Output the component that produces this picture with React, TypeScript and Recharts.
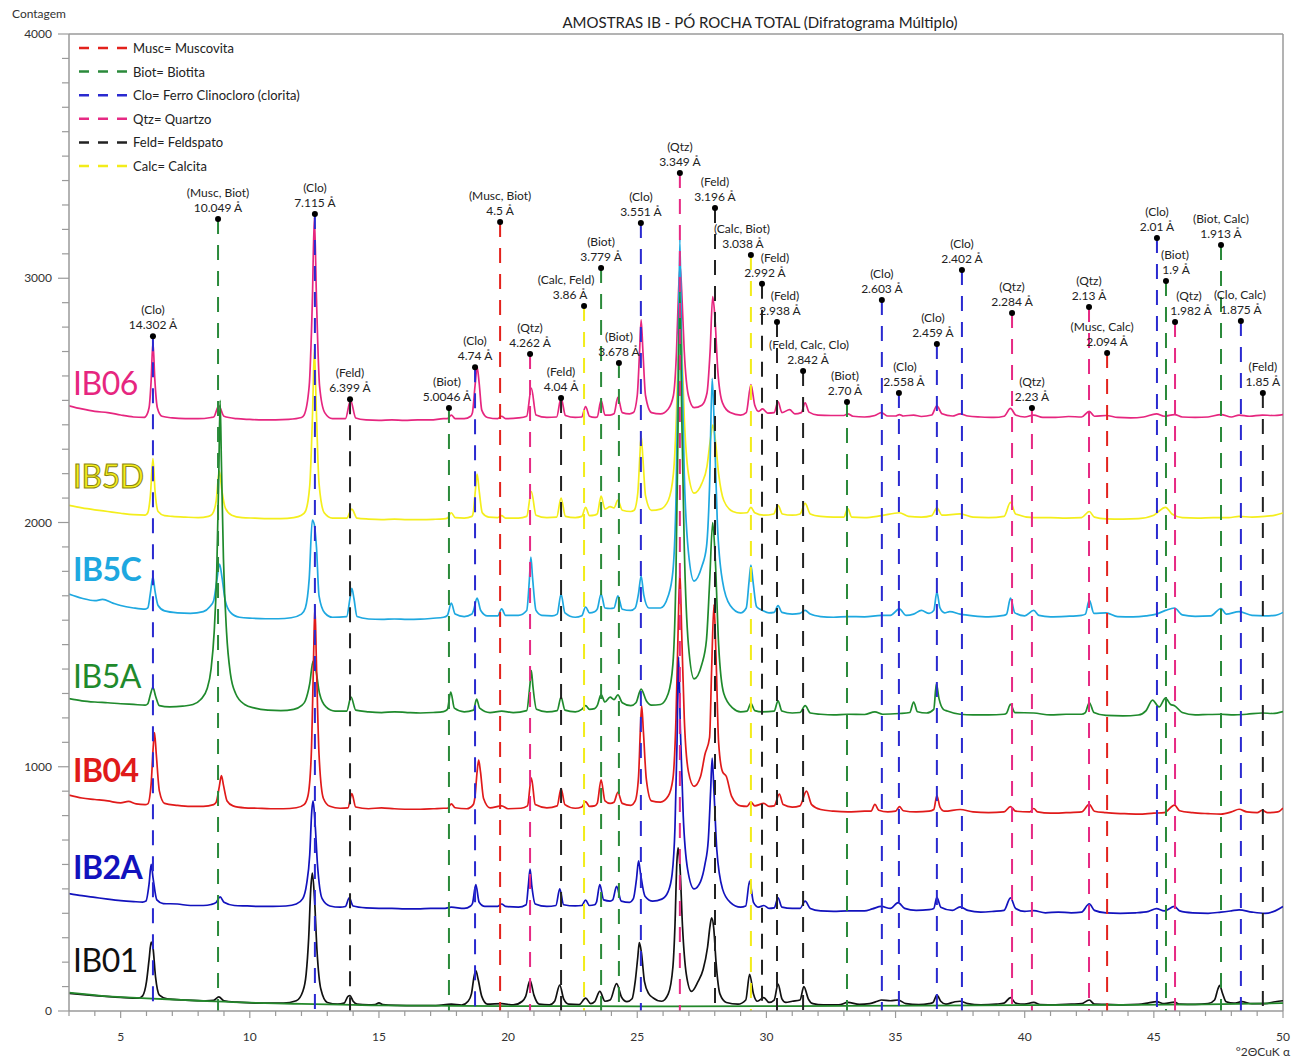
import React from 'react';
import { LineChart, Line, XAxis, YAxis, ReferenceLine, ReferenceDot } from 'recharts';

type Pt = [number, number];

// counts per sample (2θ, contagem)
const IB06: Pt[] = [
  [3, 2478], [3.5, 2465], [4, 2455], [4.5, 2450], [5, 2440], [5.5, 2432], [5.9, 2430],
  [5.95, 2432], [6.1, 2470], [6.18, 2580], [6.25, 2740], [6.32, 2590], [6.42, 2470], [6.6, 2435],
  [7, 2428], [7.5, 2425], [8, 2425], [8.5, 2430],
  [8.6, 2432], [8.8, 2478], [9.0, 2435],
  [9.5, 2425], [10, 2422], [10.5, 2420], [11, 2420], [11.5, 2422], [12.0, 2430],
  [12.1, 2440], [12.3, 2560], [12.42, 2900], [12.5, 3250], [12.58, 2920], [12.7, 2560], [12.9, 2450], [13.2, 2425],
  [13.7, 2425], [13.9, 2500], [14.1, 2428],
  [14.5, 2420], [15, 2418], [15.5, 2420], [16, 2418], [16.5, 2420], [17, 2420], [17.5, 2425],
  [17.65, 2425], [17.8, 2440], [17.95, 2425],
  [18.3, 2425], [18.55, 2435],
  [18.62, 2450], [18.72, 2560], [18.8, 2636], [18.88, 2570], [18.98, 2460], [19.2, 2430],
  [19.6, 2425], [19.75, 2435], [19.9, 2425],
  [20.4, 2428],
  [20.72, 2435], [20.9, 2550], [21.08, 2440],
  [21.5, 2430],
  [21.88, 2432], [22.05, 2510], [22.22, 2438],
  [22.6, 2430],
  [22.85, 2432], [23.0, 2475], [23.15, 2435],
  [23.35, 2430],
  [23.45, 2432], [23.6, 2500], [23.75, 2440],
  [23.95, 2440],
  [24.1, 2445], [24.25, 2512], [24.42, 2450],
  [24.7, 2445],
  [24.85, 2450], [25.0, 2520], [25.09, 2700], [25.15, 2830], [25.22, 2700], [25.32, 2520], [25.55, 2450],
  [25.9, 2445], [26.2, 2465],
  [26.4, 2520], [26.52, 2700], [26.6, 2950], [26.66, 3050], [26.72, 2950], [26.82, 2700], [26.98, 2520], [27.2, 2470],
  [27.5, 2480],
  [27.7, 2530], [27.82, 2700], [27.92, 2925], [28.0, 2850], [28.12, 2620], [28.3, 2490], [28.6, 2450],
  [29.0, 2440],
  [29.22, 2450], [29.4, 2565], [29.55, 2480], [29.7, 2455],
  [29.85, 2465], [30.05, 2448],
  [30.3, 2450], [30.45, 2495], [30.6, 2450],
  [30.9, 2462], [31.1, 2445],
  [31.35, 2450], [31.5, 2490], [31.65, 2452],
  [32, 2440], [32.5, 2438], [33, 2438],
  [33.15, 2445], [33.35, 2435],
  [33.8, 2432], [34.2, 2438],
  [34.45, 2450], [34.7, 2436],
  [35.0, 2436], [35.15, 2442], [35.3, 2436],
  [35.7, 2440], [36.0, 2434], [36.4, 2440],
  [36.6, 2478], [36.8, 2445],
  [37.2, 2436], [37.5, 2445], [37.8, 2436],
  [38.3, 2432], [38.8, 2430], [39.2, 2435],
  [39.45, 2467], [39.65, 2440],
  [40.0, 2432], [40.35, 2440], [40.7, 2430],
  [41.2, 2430], [41.7, 2434], [42.2, 2432],
  [42.5, 2455], [42.7, 2435],
  [43.15, 2438], [43.6, 2430], [44.1, 2428], [44.6, 2432],
  [45.1, 2445], [45.4, 2435], [45.8, 2442], [46.1, 2432],
  [46.6, 2430], [47.1, 2432], [47.6, 2442], [48.0, 2432], [48.3, 2440], [48.7, 2435], [49.2, 2440], [49.6, 2438], [50, 2442],
];

const IB5D: Pt[] = [
  [3, 2070], [3.5, 2060], [4, 2052], [4.5, 2045], [5, 2038], [5.5, 2032], [5.95, 2030],
  [6.05, 2040], [6.15, 2110], [6.25, 2262], [6.33, 2130], [6.45, 2045], [6.7, 2028],
  [7, 2025], [7.5, 2022], [8, 2020], [8.4, 2025],
  [8.55, 2035], [8.7, 2090], [8.82, 2210], [8.92, 2130], [9.05, 2060], [9.3, 2030],
  [9.7, 2020], [10.2, 2018], [10.7, 2016], [11.2, 2016], [11.7, 2020], [12.0, 2030],
  [12.15, 2045], [12.32, 2150], [12.43, 2450], [12.5, 2710], [12.57, 2480], [12.68, 2160], [12.88, 2040], [13.2, 2018],
  [13.75, 2018], [13.95, 2055], [14.15, 2018],
  [14.6, 2014], [15.1, 2012], [15.6, 2014], [16.1, 2012], [16.6, 2012], [17.1, 2013], [17.5, 2015],
  [17.65, 2018], [17.8, 2040], [17.95, 2020],
  [18.3, 2018], [18.6, 2025],
  [18.65, 2040], [18.74, 2140], [18.8, 2198], [18.88, 2130], [19.0, 2040], [19.25, 2022],
  [19.6, 2020], [19.75, 2028], [19.9, 2018],
  [20.4, 2018],
  [20.72, 2025], [20.9, 2127], [21.08, 2030],
  [21.5, 2020],
  [21.88, 2022], [22.05, 2100], [22.22, 2025],
  [22.6, 2020],
  [22.85, 2025], [23.0, 2062], [23.15, 2028],
  [23.35, 2030],
  [23.45, 2035], [23.6, 2108], [23.75, 2055],
  [23.95, 2065],
  [24.1, 2060], [24.25, 2092], [24.42, 2050],
  [24.75, 2045],
  [24.88, 2050], [25.02, 2120], [25.1, 2270], [25.15, 2355], [25.22, 2260], [25.32, 2110], [25.55, 2050],
  [25.9, 2055], [26.2, 2090],
  [26.4, 2200], [26.52, 2450], [26.6, 2750], [26.66, 2850], [26.72, 2740], [26.82, 2430], [26.98, 2200], [27.2, 2120],
  [27.5, 2160],
  [27.7, 2230], [27.82, 2330], [27.93, 2400], [28.02, 2340], [28.15, 2200], [28.35, 2090], [28.7, 2045],
  [29.0, 2038],
  [29.25, 2040], [29.4, 2062], [29.55, 2040],
  [29.9, 2030],
  [30.28, 2035], [30.45, 2070], [30.62, 2035],
  [31.0, 2030],
  [31.3, 2035], [31.5, 2078], [31.7, 2035],
  [32.1, 2025], [32.6, 2022], [33.0, 2022],
  [33.15, 2057], [33.3, 2022],
  [33.8, 2020], [34.45, 2028], [35.15, 2040], [35.5, 2025], [36.0, 2022], [36.4, 2028],
  [36.6, 2060], [36.8, 2030],
  [37.5, 2035], [38.0, 2022], [38.6, 2020], [39.2, 2025],
  [39.45, 2082], [39.65, 2035],
  [40.35, 2020], [41, 2020], [41.6, 2018], [42.2, 2020],
  [42.5, 2045], [42.7, 2022],
  [43.15, 2015], [43.8, 2014], [44.4, 2016], [45.0, 2030],
  [45.45, 2062], [45.7, 2035],
  [46.1, 2020], [46.7, 2018], [47.3, 2020], [47.9, 2020], [48.3, 2025], [48.8, 2022], [49.3, 2025], [49.7, 2030], [50, 2039],
];

const IB5C: Pt[] = [
  [3, 1707], [3.5, 1690], [4, 1680], [4.3, 1685], [4.7, 1670], [5, 1660], [5.5, 1650], [5.95, 1645],
  [6.05, 1650], [6.15, 1710], [6.25, 1777], [6.33, 1720], [6.45, 1660], [6.7, 1638],
  [7.2, 1630], [7.7, 1628], [8.2, 1635], [8.45, 1655],
  [8.6, 1680], [8.72, 1760], [8.83, 1830], [8.93, 1770], [9.05, 1680], [9.25, 1632],
  [9.6, 1612], [10.1, 1608], [10.6, 1606], [11.1, 1606], [11.6, 1610], [12.0, 1625],
  [12.15, 1650], [12.3, 1770], [12.42, 2010], [12.5, 1990], [12.58, 1900], [12.68, 1700], [12.9, 1630], [13.2, 1612],
  [13.75, 1615], [13.88, 1690], [13.95, 1730], [14.03, 1690], [14.15, 1615],
  [14.6, 1605], [15.1, 1603], [15.6, 1605], [16.1, 1603], [16.6, 1604], [17.1, 1608], [17.5, 1612],
  [17.65, 1620], [17.8, 1670], [17.95, 1625],
  [18.3, 1615], [18.6, 1625],
  [18.66, 1640], [18.8, 1690], [18.94, 1640], [19.2, 1618],
  [19.6, 1618], [19.75, 1646], [19.9, 1620],
  [20.4, 1620],
  [20.72, 1640], [20.82, 1760], [20.88, 1858], [20.95, 1770], [21.08, 1640], [21.3, 1620],
  [21.7, 1618],
  [21.9, 1625], [22.05, 1707], [22.2, 1630],
  [22.6, 1612],
  [22.85, 1618], [23.0, 1654], [23.15, 1630],
  [23.35, 1635],
  [23.45, 1645], [23.6, 1707], [23.75, 1650],
  [23.95, 1648],
  [24.1, 1650], [24.25, 1700], [24.42, 1645],
  [24.75, 1640],
  [24.92, 1650], [25.05, 1710], [25.15, 1781], [25.25, 1705], [25.45, 1650],
  [25.9, 1650], [26.2, 1700],
  [26.38, 1800], [26.5, 2100], [26.58, 2600], [26.65, 3160], [26.72, 2700], [26.82, 2200], [26.98, 1880], [27.2, 1760],
  [27.5, 1820],
  [27.68, 1900], [27.8, 2150], [27.9, 2590], [27.98, 2400], [28.1, 2000], [28.3, 1760], [28.6, 1660],
  [29.0, 1630],
  [29.22, 1650], [29.33, 1760], [29.4, 1826], [29.48, 1760], [29.62, 1655],
  [29.85, 1640], [30.1, 1630],
  [30.3, 1632], [30.45, 1660], [30.6, 1632],
  [31.0, 1625],
  [31.3, 1628], [31.5, 1640], [31.7, 1625],
  [32.1, 1615], [32.6, 1612], [33.15, 1615], [33.8, 1614], [34.45, 1620], [34.8, 1620],
  [35.15, 1646], [35.4, 1620],
  [35.7, 1625], [36.0, 1640], [36.3, 1628],
  [36.48, 1640], [36.6, 1715], [36.72, 1650], [36.9, 1630],
  [37.1, 1635], [37.5, 1625], [38, 1618], [38.6, 1614], [39.2, 1620],
  [39.3, 1625], [39.45, 1690], [39.62, 1630],
  [40.0, 1618],
  [40.35, 1640], [40.55, 1620],
  [41, 1614], [41.6, 1616], [42.2, 1620],
  [42.35, 1625], [42.5, 1682], [42.68, 1628],
  [43.15, 1630], [43.6, 1615], [44.2, 1614], [44.7, 1618],
  [45.1, 1625], [45.45, 1640], [45.8, 1650], [46.1, 1622],
  [46.6, 1616], [47.2, 1618],
  [47.6, 1648], [47.8, 1625],
  [48.3, 1635], [48.8, 1620], [49.3, 1618], [49.7, 1620], [50, 1632],
];

const IB5A: Pt[] = [
  [3, 1279], [3.5, 1270], [4, 1265], [4.5, 1262], [5, 1258], [5.5, 1255], [5.95, 1252],
  [6.05, 1258], [6.15, 1295], [6.25, 1325], [6.35, 1290], [6.5, 1250],
  [6.9, 1245], [7.4, 1248], [7.8, 1255], [8.1, 1275], [8.35, 1320],
  [8.5, 1400], [8.62, 1550], [8.72, 1800], [8.8, 2200], [8.85, 2500], [8.9, 2250], [8.98, 1850], [9.1, 1550], [9.25, 1380], [9.45, 1300], [9.8, 1255],
  [10.2, 1240], [10.7, 1232], [11.2, 1230], [11.7, 1235], [12.0, 1250],
  [12.15, 1270], [12.32, 1340], [12.45, 1433], [12.55, 1400], [12.7, 1300], [12.95, 1245],
  [13.3, 1228],
  [13.75, 1228], [13.92, 1285], [14.1, 1232],
  [14.6, 1225], [15.1, 1222], [15.6, 1225], [16.1, 1222], [16.6, 1220], [17.1, 1222], [17.5, 1226],
  [17.65, 1235], [17.78, 1306], [17.92, 1240],
  [18.3, 1225],
  [18.66, 1232], [18.78, 1277], [18.9, 1240],
  [19.3, 1222], [19.75, 1228], [20.2, 1222],
  [20.72, 1230], [20.84, 1330], [20.9, 1394], [20.96, 1330], [21.1, 1235],
  [21.5, 1225],
  [21.9, 1230], [22.05, 1285], [22.2, 1232],
  [22.6, 1225],
  [22.85, 1235], [23.0, 1250], [23.15, 1235],
  [23.35, 1238],
  [23.45, 1250], [23.6, 1295], [23.75, 1265],
  [23.95, 1285],
  [24.1, 1275], [24.25, 1294], [24.42, 1262],
  [24.75, 1250],
  [24.95, 1262], [25.15, 1318], [25.35, 1270],
  [25.55, 1252], [25.9, 1255], [26.2, 1300],
  [26.38, 1420], [26.5, 1800], [26.58, 2400], [26.65, 2950], [26.72, 2450], [26.82, 1900], [26.98, 1500], [27.2, 1360],
  [27.5, 1420],
  [27.68, 1520], [27.8, 1750], [27.92, 2000], [28.02, 1850], [28.15, 1500], [28.35, 1300], [28.7, 1240],
  [29.0, 1225],
  [29.25, 1228], [29.4, 1260], [29.55, 1230],
  [29.85, 1225],
  [30.3, 1228], [30.45, 1270], [30.6, 1228],
  [31.0, 1220],
  [31.3, 1222], [31.5, 1250], [31.7, 1220],
  [32.1, 1215], [32.6, 1212], [33.15, 1215], [33.8, 1214], [34.2, 1225], [34.5, 1215], [35.15, 1218],
  [35.55, 1222], [35.7, 1265], [35.85, 1225],
  [36.2, 1220],
  [36.48, 1235], [36.58, 1339], [36.68, 1280], [36.85, 1235],
  [37.0, 1228], [37.5, 1215], [38, 1212], [38.6, 1212], [39.2, 1215],
  [39.3, 1220], [39.45, 1255], [39.62, 1222],
  [40.35, 1220], [41, 1212], [41.6, 1215], [42.2, 1215],
  [42.35, 1222], [42.5, 1263], [42.68, 1222],
  [43.15, 1210], [43.8, 1208], [44.4, 1212], [44.7, 1230],
  [44.95, 1273], [45.2, 1245],
  [45.45, 1281], [45.65, 1255],
  [45.8, 1250], [46.1, 1222], [46.6, 1212], [47.1, 1214], [47.6, 1215], [48.1, 1212], [48.6, 1215], [49.2, 1220], [49.6, 1218], [50, 1226],
];

const IB04: Pt[] = [
  [3, 884], [3.5, 872], [4, 866], [4.5, 860], [5, 852], [5.3, 858], [5.6, 848], [5.95, 845],
  [6.05, 848], [6.18, 930], [6.26, 1080], [6.31, 1140], [6.38, 1050], [6.5, 900], [6.7, 850],
  [7.2, 842], [7.7, 838], [8.2, 838], [8.6, 845],
  [8.7, 855], [8.82, 920], [8.9, 964], [8.98, 925], [9.12, 860], [9.35, 840],
  [9.8, 832], [10.3, 830], [10.8, 828], [11.3, 828], [11.8, 832], [12.1, 845],
  [12.25, 880], [12.38, 1050], [12.46, 1400], [12.52, 1660], [12.58, 1420], [12.68, 1050], [12.85, 870], [13.1, 838],
  [13.5, 830],
  [13.8, 832], [13.95, 890], [14.1, 835],
  [14.6, 828], [15.1, 832], [15.6, 828], [16.1, 826], [16.6, 826], [17.1, 828], [17.5, 830],
  [17.65, 830], [17.8, 848], [17.95, 832],
  [18.4, 828], [18.65, 845],
  [18.72, 880], [18.8, 980], [18.86, 1027], [18.93, 980], [19.05, 870], [19.3, 832],
  [19.75, 840], [20.0, 828],
  [20.5, 830],
  [20.75, 840], [20.9, 955], [21.05, 845],
  [21.5, 832],
  [21.9, 840], [22.05, 911], [22.2, 845],
  [22.6, 830],
  [22.85, 835], [23.0, 857], [23.15, 838],
  [23.35, 840],
  [23.45, 850], [23.6, 946], [23.75, 860],
  [23.95, 850],
  [24.1, 855], [24.25, 895], [24.42, 850],
  [24.75, 842],
  [24.92, 860], [25.05, 960], [25.12, 1150], [25.17, 1250], [25.24, 1140], [25.35, 950], [25.55, 860],
  [25.9, 855], [26.2, 880],
  [26.38, 950], [26.5, 1200], [26.58, 1550], [26.65, 1800], [26.72, 1550], [26.82, 1200], [26.98, 980], [27.2, 920],
  [27.45, 960], [27.62, 1050],
  [27.8, 1120], [27.88, 1400], [27.97, 1664], [28.05, 1450], [28.15, 1100], [28.3, 980], [28.45, 960], [28.65, 880],
  [29.0, 840],
  [29.25, 838], [29.4, 855], [29.55, 840],
  [29.9, 850], [30.1, 838],
  [30.3, 840], [30.5, 888], [30.65, 845],
  [31.0, 835],
  [31.3, 840], [31.55, 900], [31.75, 845],
  [32.1, 825], [32.6, 818], [33.15, 815], [33.8, 818],
  [34.05, 818], [34.2, 846], [34.35, 822],
  [34.7, 815],
  [35.0, 818], [35.15, 837], [35.3, 820],
  [35.8, 815], [36.3, 818],
  [36.48, 825], [36.6, 882], [36.72, 835], [36.9, 818],
  [37.5, 825], [38, 815], [38.6, 812], [39.2, 815],
  [39.45, 837], [39.65, 818],
  [40.2, 815], [40.35, 829], [40.5, 815],
  [41, 810], [41.6, 812], [42.2, 815],
  [42.5, 846], [42.7, 818],
  [43.15, 812], [43.8, 808], [44.4, 806], [45.0, 810], [45.4, 812],
  [45.8, 843], [46.0, 820],
  [46.5, 812], [47.1, 808], [47.6, 806], [48.0, 815],
  [48.3, 826], [48.6, 815],
  [49.0, 812], [49.2, 822], [49.4, 812],
  [49.8, 815], [50, 831],
];

const IB2A: Pt[] = [
  [3, 481], [3.5, 472], [4, 465], [4.5, 458], [5, 452], [5.5, 448], [5.85, 446],
  [5.98, 450], [6.1, 520], [6.18, 600], [6.26, 540], [6.4, 455], [6.65, 440],
  [7.2, 438], [7.7, 432], [8.2, 432], [8.5, 436],
  [8.7, 445], [8.85, 467], [9.0, 445],
  [9.4, 432], [9.9, 430], [10.4, 428], [10.9, 428], [11.4, 430], [11.8, 438], [12.05, 460],
  [12.2, 520], [12.32, 640], [12.4, 820], [12.45, 860], [12.52, 780], [12.62, 600], [12.8, 460], [13.1, 430],
  [13.5, 425],
  [13.7, 428], [13.85, 463], [14.0, 430],
  [14.5, 422], [15.0, 420], [15.5, 420], [16, 418], [16.5, 418], [17, 420], [17.5, 420],
  [17.8, 425],
  [18.3, 420], [18.55, 430],
  [18.62, 440], [18.75, 517], [18.88, 445], [19.1, 428],
  [19.6, 428], [19.75, 438], [19.9, 428],
  [20.4, 425],
  [20.7, 435], [20.78, 510], [20.85, 581], [20.92, 510], [21.05, 438],
  [21.5, 428],
  [21.85, 432], [22.0, 500], [22.15, 435],
  [22.6, 430],
  [22.85, 432], [23.0, 454], [23.15, 432],
  [23.35, 435],
  [23.42, 445], [23.55, 517], [23.7, 455],
  [23.95, 450],
  [24.05, 455], [24.2, 510], [24.38, 450],
  [24.7, 445],
  [24.85, 460], [24.97, 540], [25.05, 615], [25.13, 560], [25.3, 470],
  [25.6, 450], [25.95, 458], [26.2, 490],
  [26.35, 560], [26.46, 750], [26.54, 1100], [26.6, 1450], [26.67, 1150], [26.78, 800], [26.95, 580], [27.2, 500],
  [27.45, 530], [27.62, 600],
  [27.75, 700], [27.84, 900], [27.9, 1035], [27.97, 900], [28.08, 660], [28.3, 500], [28.6, 445],
  [29.0, 425],
  [29.2, 430], [29.35, 532], [29.5, 445], [29.7, 425],
  [29.9, 432], [30.1, 420],
  [30.3, 422], [30.45, 463], [30.6, 425],
  [31.0, 420],
  [31.3, 420], [31.5, 450], [31.7, 420],
  [32.1, 410], [32.6, 408], [33.15, 410], [33.8, 410], [34.1, 418],
  [34.45, 428], [34.8, 420],
  [35.1, 444], [35.35, 420],
  [35.8, 412], [36.3, 415],
  [36.48, 420], [36.6, 465], [36.75, 425],
  [37.2, 412],
  [37.5, 426], [37.8, 412],
  [38.3, 405], [38.8, 408], [39.2, 412],
  [39.45, 463], [39.65, 420],
  [40.0, 408], [40.35, 411],
  [40.8, 402], [41.3, 405], [41.8, 402], [42.2, 405],
  [42.5, 439], [42.7, 412],
  [43.15, 402], [43.7, 400], [44.3, 402], [44.8, 408],
  [45.1, 419], [45.4, 410],
  [45.8, 428], [46.0, 410],
  [46.5, 402], [47.1, 400], [47.6, 405], [48.0, 410],
  [48.3, 414], [48.8, 405], [49.3, 400], [49.7, 410], [50, 428],
];

const IB01: Pt[] = [
  [3, 72], [4, 63], [5, 56], [5.7, 53],
  [5.85, 62], [6.0, 120], [6.1, 210], [6.18, 282], [6.25, 260], [6.35, 140], [6.5, 65], [6.8, 50],
  [7.5, 45], [8.3, 42],
  [8.6, 44], [8.8, 58], [9.0, 42],
  [9.5, 36], [10.5, 32], [11.3, 32], [11.8, 42], [12.05, 80],
  [12.18, 150], [12.28, 300], [12.36, 500], [12.42, 565], [12.5, 470], [12.6, 250], [12.75, 90], [13.0, 35],
  [13.4, 28],
  [13.65, 32], [13.8, 60], [13.88, 63], [14.0, 40], [14.15, 28],
  [14.6, 25],
  [14.85, 26], [15.0, 33], [15.15, 26],
  [15.7, 23], [16.4, 22], [17.2, 22],
  [17.8, 28],
  [18.2, 24], [18.45, 40],
  [18.58, 70], [18.68, 140], [18.75, 165], [18.84, 130], [18.98, 60], [19.2, 28],
  [19.75, 30], [20.2, 25], [20.55, 40],
  [20.68, 60], [20.85, 125], [21.0, 65], [21.2, 28],
  [21.6, 25], [21.8, 40],
  [22.0, 106], [22.15, 50], [22.35, 28],
  [22.75, 26],
  [23.0, 53], [23.2, 30],
  [23.35, 38],
  [23.55, 80], [23.75, 40],
  [23.95, 45],
  [24.2, 112], [24.4, 55], [24.6, 38],
  [24.8, 50],
  [24.92, 120], [25.02, 220], [25.08, 280], [25.16, 240], [25.28, 120], [25.45, 70],
  [25.6, 55], [25.95, 40], [26.2, 70],
  [26.38, 180], [26.46, 350], [26.53, 600], [26.58, 668], [26.65, 600], [26.75, 350], [26.9, 150], [27.1, 80],
  [27.35, 120], [27.55, 170],
  [27.72, 260], [27.82, 350], [27.88, 381], [27.96, 340], [28.05, 200], [28.2, 70], [28.45, 35],
  [28.9, 28],
  [29.2, 45], [29.35, 150], [29.5, 70], [29.65, 40],
  [29.9, 55], [30.1, 35],
  [30.3, 45], [30.45, 110], [30.6, 50], [30.75, 35],
  [31.0, 40],
  [31.3, 45], [31.45, 100], [31.62, 50], [31.8, 30],
  [32.2, 25], [32.8, 25],
  [33.15, 35],
  [33.6, 27], [34.0, 30],
  [34.3, 40], [34.45, 45], [34.8, 42],
  [35.1, 45], [35.4, 30],
  [35.9, 26], [36.3, 30],
  [36.45, 35], [36.6, 65], [36.75, 40], [36.95, 28],
  [37.3, 38], [37.5, 40], [37.8, 30],
  [38.3, 25], [38.9, 28], [39.2, 32],
  [39.45, 55], [39.65, 32],
  [40.0, 28], [40.35, 35], [40.6, 26],
  [41.2, 25], [41.8, 28], [42.2, 30],
  [42.5, 45], [42.7, 28],
  [43.15, 27], [43.8, 25], [44.4, 27], [44.8, 33], [45.1, 38], [45.4, 30],
  [45.8, 36], [46.0, 28],
  [46.6, 27], [47.1, 30], [47.35, 45],
  [47.48, 90], [47.55, 105], [47.65, 75], [47.8, 38],
  [48.1, 32], [48.4, 38], [48.8, 30], [49.3, 30], [49.7, 38], [50, 42],
];

// background curve under IB01
const BACKGROUND: Pt[] = [
  [3, 75], [3.5, 70], [4, 65], [4.5, 60], [5, 57], [6, 52], [7, 47], [8, 42], [9, 38], [10, 34], [11, 31], [12, 29],
  [13, 27], [14, 25], [15, 23], [17, 22], [20, 20], [23, 20], [26, 19], [30, 20], [33, 21], [36, 22], [40, 24],
  [44, 25], [47, 27], [50, 32],
];

// peak markers
const PEAK_X = [6.25, 8.77, 12.52, 13.88, 17.71, 18.72, 19.69, 20.85, 22.05, 22.94, 23.6, 24.29, 25.14, 26.65, 28.01,
  29.4, 29.83, 30.41, 31.42, 33.12, 34.47, 35.13, 36.6, 37.57, 39.51, 40.28, 42.49, 43.19, 45.12, 45.47, 45.82,
  47.6, 48.37, 49.22];
const PEAK_TOP = [2763, 3243, 3263, 2505, 2469, 2636, 3230, 2690, 2510, 2886, 3042, 2653, 3226, 3431, 3288, 3095,
  2977, 2821, 2620, 2493, 2911, 2530, 2731, 3034, 2858, 2469, 2882, 2694, 3165, 2989, 2821, 3136, 2825, 2530];
const PEAK_PHASE = ['(Clo)', '(Musc, Biot)', '(Clo)', '(Feld)', '(Biot)', '(Clo)', '(Musc, Biot)', '(Qtz)', '(Feld)',
  '(Calc, Feld)', '(Biot)', '(Biot)', '(Clo)', '(Qtz)', '(Feld)', '(Calc, Biot)', '(Feld)', '(Feld)',
  '(Feld, Calc, Clo)', '(Biot)', '(Clo)', '(Clo)', '(Clo)', '(Clo)', '(Qtz)', '(Qtz)', '(Qtz)', '(Musc, Calc)',
  '(Clo)', '(Biot)', '(Qtz)', '(Biot, Calc)', '(Clo, Calc)', '(Feld)'];
const PEAK_D = ['14.302 Å', '10.049 Å', '7.115 Å', '6.399 Å', '5.0046 Å', '4.74 Å', '4.5 Å', '4.262 Å', '4.04 Å',
  '3.86 Å', '3.779 Å', '3.678 Å', '3.551 Å', '3.349 Å', '3.196 Å', '3.038 Å', '2.992 Å', '2.938 Å', '2.842 Å',
  '2.70 Å', '2.603 Å', '2.558 Å', '2.459 Å', '2.402 Å', '2.284 Å', '2.23 Å', '2.13 Å', '2.094 Å', '2.01 Å',
  '1.9 Å', '1.982 Å', '1.913 Å', '1.875 Å', '1.85 Å'];
const PEAK_MINERAL = ['Clo', 'Biot', 'Clo', 'Feld', 'Biot', 'Clo', 'Musc', 'Qtz', 'Feld', 'Calc', 'Biot', 'Biot', 'Clo',
  'Qtz', 'Feld', 'Calc', 'Feld', 'Feld', 'Feld', 'Biot', 'Clo', 'Clo', 'Clo', 'Clo', 'Qtz', 'Qtz', 'Qtz', 'Musc',
  'Clo', 'Biot', 'Qtz', 'Biot', 'Clo', 'Feld'];

const LEGEND = [
  { key: 'Musc', text: 'Musc= Muscovita' },
  { key: 'Biot', text: 'Biot= Biotita' },
  { key: 'Clo', text: 'Clo= Ferro Clinocloro (clorita)' },
  { key: 'Qtz', text: 'Qtz= Quartzo' },
  { key: 'Feld', text: 'Feld= Feldspato' },
  { key: 'Calc', text: 'Calc= Calcita' },
];

const X_TICKS = Array.from({ length: 48 }, (_, i) => i + 3);
const Y_TICKS = Array.from({ length: 41 }, (_, i) => i * 100);

// label text offsets (px) for crowded peaks: [line1 dx, line2 dx]
const LABEL_DX: Record<number, [number, number]> = {
  4: [-2, -2], 9: [-18, -14], 15: [-9, -8], 16: [13, 3], 17: [8, 3], 18: [6, 5], 19: [-2, -2],
  21: [6, 5], 22: [-4, -4], 27: [-5, 0], 29: [9, 10], 30: [14, 16], 32: [-1, 0],
};

const MINERAL_COLOR: Record<string, string> = {
  Musc: '#e3221c', Biot: '#2b8a3b', Clo: '#2a2ad0', Qtz: '#e62a84', Feld: '#222222', Calc: '#f2ec1a',
};

const SERIES = [
  { name: 'IB06', data: IB06, color: '#e6267f', labelY: 383, weight: 400 },
  { name: 'IB5D', data: IB5D, color: '#f4ee1c', labelY: 476, weight: 400 },
  { name: 'IB5C', data: IB5C, color: '#1ea8e0', labelY: 569, weight: 700 },
  { name: 'IB5A', data: IB5A, color: '#1f8a2c', labelY: 676, weight: 400 },
  { name: 'IB04', data: IB04, color: '#e01a1a', labelY: 770, weight: 700 },
  { name: 'IB2A', data: IB2A, color: '#1212bd', labelY: 867, weight: 700 },
  { name: 'IB01', data: IB01, color: '#111111', labelY: 960, weight: 400 },
];

const FONT = 'Lato, "Open Sans", sans-serif';
const toPts = (arr: Pt[]) => arr.map(([x, y]) => ({ x, y }));

const XTick = (props: any) => {
  const { x, y, payload } = props;
  const major = payload.value % 5 === 0;
  return (
    <g>
      <line x1={x} x2={x} y1={y} y2={y + (major ? 7 : 5)} stroke="#9a9a9a" strokeWidth={1.2} />
      {major && (
        <text x={x} y={y + 30} textAnchor="middle" fontSize={12} fill="#333" fontFamily={FONT}>
          {payload.value}
        </text>
      )}
    </g>
  );
};

const YTick = (props: any) => {
  const { x, y, payload } = props;
  const major = payload.value % 1000 === 0;
  return (
    <g>
      <line x1={x - (major ? 11 : 7)} x2={x} y1={y} y2={y} stroke="#9a9a9a" strokeWidth={1.2} />
      {major && (
        <text x={x - 17} y={y + 4} textAnchor="end" fontSize={12} fill="#333" fontFamily={FONT}>
          {payload.value}
        </text>
      )}
    </g>
  );
};

const PeakMark = (i: number) => (props: any) => {
  const { cx, cy } = props;
  const [d1, d2] = LABEL_DX[i] ?? [0, 0];
  return (
    <g>
      <circle cx={cx} cy={cy} r={3} fill="#000" />
      <text x={cx + d1} y={cy - 22} textAnchor="middle" fontSize={12} fill="#222" fontFamily={FONT}>
        {PEAK_PHASE[i]}
      </text>
      <text x={cx + d2} y={cy - 7} textAnchor="middle" fontSize={12} fill="#222" fontFamily={FONT}>
        {PEAK_D[i]}
      </text>
    </g>
  );
};

export default function App() {
  return (
    <div style={{ position: 'absolute', left: 0, top: 0, width: 1294, height: 1064, background: '#fff' }}>
      <LineChart width={1294} height={1064} margin={{ top: 34, right: 11, bottom: 23, left: 9 }}>
        <XAxis
          dataKey="x"
          type="number"
          domain={[3, 50]}
          ticks={X_TICKS}
          interval={0}
          tick={XTick}
          tickLine={false}
          tickSize={0}
          tickMargin={0}
          height={30}
          allowDataOverflow
          axisLine={{ stroke: '#9a9a9a', strokeWidth: 1.5 }}
        />
        <YAxis
          type="number"
          domain={[0, 4000]}
          ticks={Y_TICKS}
          interval={0}
          tick={YTick}
          tickLine={false}
          tickSize={0}
          tickMargin={0}
          width={60}
          allowDataOverflow
          axisLine={{ stroke: '#9a9a9a', strokeWidth: 1.5 }}
        />
        <ReferenceLine y={4000} stroke="#9a9a9a" strokeWidth={1.5} />
        <ReferenceLine x={50} stroke="#9a9a9a" strokeWidth={1.5} />
        {SERIES.map((s) => (
          <Line
            key={s.name}
            data={toPts(s.data)}
            dataKey="y"
            type="monotone"
            stroke={s.color}
            strokeWidth={1.7}
            dot={false}
            activeDot={false}
            isAnimationActive={false}
          />
        ))}
        <Line
          data={toPts(BACKGROUND)}
          dataKey="y"
          type="monotone"
          stroke="#23882b"
          strokeWidth={1.8}
          dot={false}
          activeDot={false}
          isAnimationActive={false}
        />
        {PEAK_X.map((x, i) => (
          <ReferenceLine
            key={`l${i}`}
            segment={[{ x, y: PEAK_TOP[i] }, { x, y: 0 }]}
            stroke={MINERAL_COLOR[PEAK_MINERAL[i]]}
            strokeWidth={2}
            strokeDasharray="15 11"
          />
        ))}
        {PEAK_X.map((x, i) => (
          <ReferenceDot key={`d${i}`} x={x} y={PEAK_TOP[i]} r={3} shape={PeakMark(i)} />
        ))}
      </LineChart>
      <svg
        width={1294}
        height={1064}
        style={{ position: 'absolute', left: 0, top: 0, pointerEvents: 'none' }}
        fontFamily={FONT}
      >
        <text x={760} y={28} textAnchor="middle" fontSize={15} fill="#222">
          AMOSTRAS IB - PÓ ROCHA TOTAL (Difratograma Múltiplo)
        </text>
        <text x={12} y={18} fontSize={12} fill="#333">Contagem</text>
        <text x={1290} y={1056} textAnchor="end" fontSize={12} fill="#333">°2ΘCuK α</text>
        {LEGEND.map((l, i) => (
          <g key={l.key}>
            <line
              x1={79}
              x2={127}
              y1={48 + i * 23.6}
              y2={48 + i * 23.6}
              stroke={MINERAL_COLOR[l.key]}
              strokeWidth={2.5}
              strokeDasharray="10 9"
            />
            <text x={133} y={48 + i * 23.6 + 5} fontSize={13} fill="#222">{l.text}</text>
          </g>
        ))}
        {SERIES.map((s) => (
          <text
            key={s.name}
            x={73}
            y={s.labelY + 12}
            fontSize={32}
            fontWeight={s.weight}
            fill={s.color}
            stroke={s.name === 'IB5D' ? '#8a8612' : 'none'}
            strokeWidth={s.name === 'IB5D' ? 1 : 0}
            letterSpacing={-0.5}
          >
            {s.name}
          </text>
        ))}
      </svg>
    </div>
  );
}
